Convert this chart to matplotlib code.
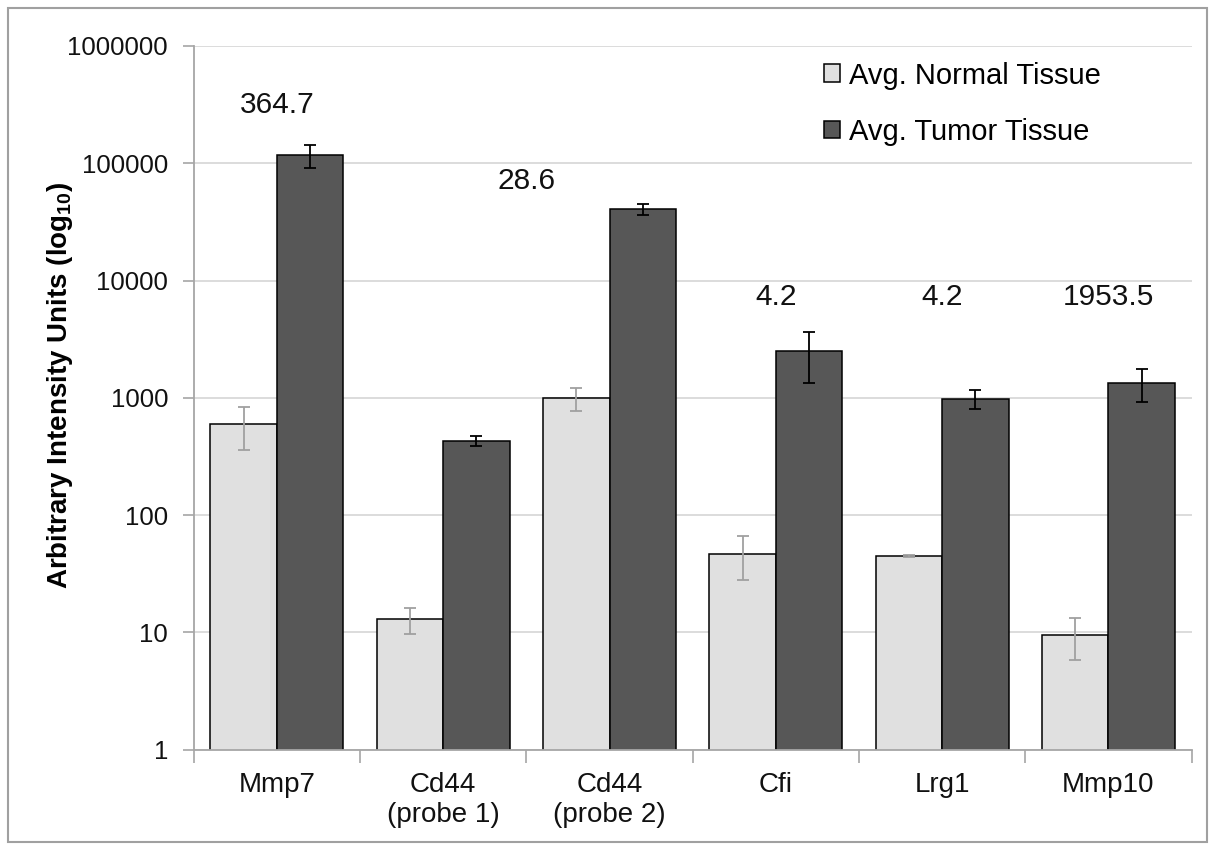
import numpy as np
import matplotlib
matplotlib.use('Agg')
import matplotlib.pyplot as plt
from matplotlib.ticker import FixedLocator, FuncFormatter, NullLocator
from matplotlib.patches import Rectangle

plt.rcParams['font.family'] = 'Liberation Sans'
plt.rcParams['mathtext.fontset'] = 'custom'
plt.rcParams['mathtext.rm'] = 'Liberation Sans'
plt.rcParams['mathtext.bf'] = 'Liberation Sans:bold'

# data
genes = ['Mmp7', 'Cd44\n(probe 1)', 'Cd44\n(probe 2)', 'Cfi', 'Lrg1', 'Mmp10']
normal_avg = [596, 12.9, 990, 47, 44.6, 9.5]
normal_err = [235, 3.2, 220, 19, 1.0, 3.7]
tumor_avg = [117000, 430, 40500, 2500, 977, 1340]
tumor_err = [25500, 45, 4500, 1150, 180, 420]

fold_labels = ['364.7', '28.6', '4.2', '4.2', '1953.5']
fold_x = [0, 1.5, 3, 4, 5]
fold_y = [312000, 70000, 7200, 7200, 7200]

c_normal = '#e0e0e0'
c_tumor = '#575757'

fig = plt.figure(figsize=(12.11, 8.5), dpi=100)
ax = fig.add_axes([0.160, 0.118, 0.824, 0.828])

x = np.arange(len(genes))
w = 0.4

ax.bar(x - w/2, normal_avg, w, color=c_normal, edgecolor='black', linewidth=1.1,
       label='Avg. Normal Tissue', zorder=2)
ax.bar(x + w/2, tumor_avg, w, color=c_tumor, edgecolor='black', linewidth=1.1,
       label='Avg. Tumor Tissue', zorder=2)
ax.errorbar(x - w/2, normal_avg, yerr=normal_err, fmt='none', ecolor='#a0a0a0',
            elinewidth=1.3, capsize=4.5, capthick=1.3, zorder=3)
ax.errorbar(x + w/2, tumor_avg, yerr=tumor_err, fmt='none', ecolor='black',
            elinewidth=1.3, capsize=4.5, capthick=1.3, zorder=3)

# fold-change annotations
for lab, lx, ly in zip(fold_labels, fold_x, fold_y):
    ax.text(lx, ly, lab, ha='center', va='center', fontsize=21.5, color='#111111')

ax.set_yscale('log')
ax.set_ylim(1, 1e6)
ax.set_xlim(-0.5, len(genes) - 0.5)
ax.yaxis.set_major_locator(FixedLocator([10**i for i in range(7)]))
ax.yaxis.set_minor_locator(NullLocator())
ax.yaxis.set_major_formatter(FuncFormatter(lambda v, p: f'{int(round(v))}'))

ax.set_xticks(x)
ax.set_xticklabels(genes, fontsize=20)
ax.xaxis.set_minor_locator(FixedLocator(np.arange(-0.5, len(genes), 1)))
ax.tick_params(axis='x', which='major', length=0, pad=16, colors='#111111')
ax.tick_params(axis='x', which='minor', length=9, width=1.2, color='#a6a6a6')
ax.tick_params(axis='y', length=8, width=1.2, color='#a6a6a6', labelsize=18.5,
               labelcolor='#111111', pad=10.5)

ax.grid(True, axis='y', color='#d9d9d9', linewidth=1.3, zorder=0)
ax.set_axisbelow(True)
for s in ['top', 'right']:
    ax.spines[s].set_visible(False)
for s in ['left', 'bottom']:
    ax.spines[s].set_color('#a6a6a6')
    ax.spines[s].set_linewidth(1.3)

ax.set_ylabel(r'Arbitrary Intensity Units (log$\mathbf{_{10}}$)', fontsize=20,
              fontweight='bold')
ax.yaxis.set_label_coords(-0.119, 0.518)

ax.legend(loc='upper left', bbox_to_anchor=(0.605, 1.015), frameon=False,
          fontsize=21, handlelength=0.55, handleheight=0.55, handletextpad=0.3,
          labelspacing=0.97)

# light grey frame round the whole figure
fig.patches.append(Rectangle((8/1211, 8/850), 1199/1211, 834/850, transform=fig.transFigure,
                             fill=False, edgecolor='#a0a0a0', linewidth=1.5))

fig.savefig('out.png', dpi=100)
